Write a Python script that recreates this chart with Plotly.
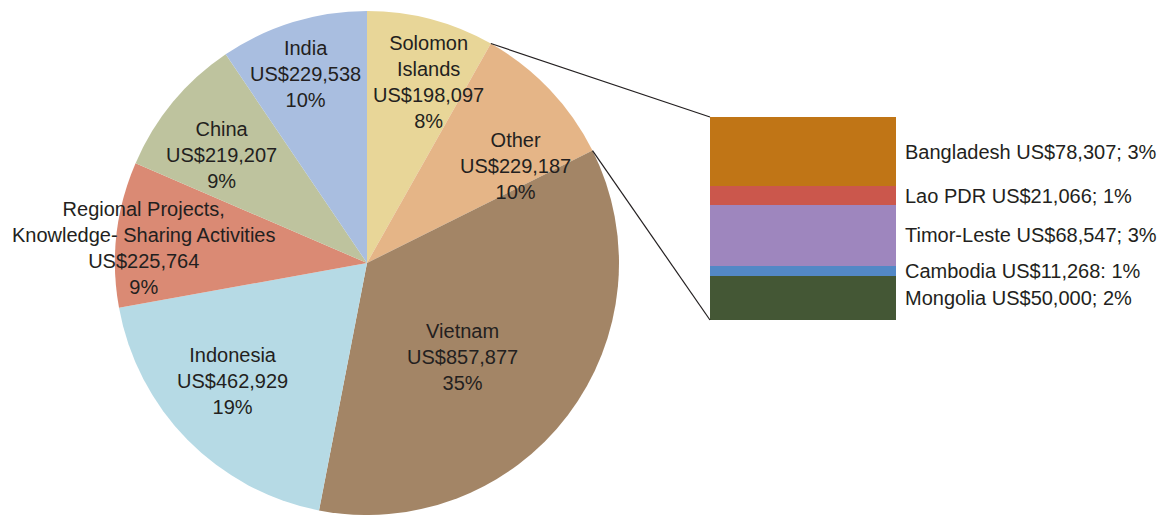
import math
import plotly.graph_objects as go

# ---- data ----
pie_labels = ["Solomon Islands", "Other", "Vietnam", "Indonesia",
              "Regional Projects, Knowledge- Sharing Activities", "China", "India"]
pie_text = ["Solomon<br>Islands<br>US$198,097<br>8%",
            "Other<br>US$229,187<br>10%",
            "Vietnam<br>US$857,877<br>35%",
            "Indonesia<br>US$462,929<br>19%",
            "Regional Projects,<br>Knowledge- Sharing Activities<br>US$225,764<br>9%",
            "China<br>US$219,207<br>9%",
            "India<br>US$229,538<br>10%"]
pie_values = [198097, 229187, 857877, 462929, 225764, 219207, 229538]
pie_colors = ["#E8D698", "#E5B587", "#A38566", "#B6DAE5", "#DA8A74", "#BEC39E", "#A9BEE0"]

bar_labels = ["Mongolia", "Cambodia", "Timor-Leste", "Lao PDR", "Bangladesh"]
bar_values = [50000, 11268, 68547, 21066, 78307]
bar_text = ["Mongolia US$50,000; 2%", "Cambodia US$11,268: 1%",
            "Timor-Leste US$68,547; 3%", "Lao PDR US$21,066; 1%",
            "Bangladesh US$78,307; 3%"]
bar_colors = ["#445735", "#5388C6", "#9E86BE", "#CB574C", "#C07516"]

# ---- layout geometry ----
W, H = 1176, 515
cx, cy, R = 367, 263, 252
pie_dom_x = [(cx - R) / W, (cx + R) / W]
pie_dom_y = [(H - cy - R) / H, (H - cy + R) / H]
bar_dom_x = [710 / W, 896 / W]
bar_dom_y = [(H - 320) / H, (H - 117) / H]

FONT = "Liberation Sans"
TXT = "#231F20"

fig = go.Figure()
fig.add_trace(go.Pie(
    labels=pie_labels, values=pie_values, sort=False, direction="clockwise",
    rotation=0, marker=dict(colors=pie_colors, line=dict(width=0)),
    textinfo="none", hoverinfo="label+value", showlegend=False,
    domain=dict(x=pie_dom_x, y=pie_dom_y)))

for lab, v, c in zip(bar_labels, bar_values, bar_colors):
    fig.add_trace(go.Bar(x=[0], y=[v], name=lab, marker=dict(color=c, line=dict(width=0)),
                         width=1, showlegend=False, xaxis="x", yaxis="y"))

total_other = sum(bar_values)
annotations = []
# pie label positions (pixel centres)
pie_label_pos = [(428, 82), (515, 166), (462, 357), (232, 381), (143, 248), (222, 155), (305, 74)]
for t, (px, py) in zip(pie_text, pie_label_pos):
    annotations.append(dict(text=t, x=px / W, y=(H - py) / H, xref="paper", yref="paper",
                            showarrow=False, xanchor="center", yanchor="middle",
                            font=dict(family=FONT, size=20, color=TXT)))
cum = 0
for t, v in zip(bar_text, bar_values):
    annotations.append(dict(text=t, x=903 / W, y=cum + v / 2, xref="paper", yref="y",
                            showarrow=False, xanchor="left", yanchor="middle",
                            font=dict(family=FONT, size=20, color=TXT)))
    cum += v

# connector lines from the "Other" slice edges to the bar
tot = sum(pie_values)
a1 = 2 * math.pi * pie_values[0] / tot
a2 = 2 * math.pi * (pie_values[0] + pie_values[1]) / tot
p1 = (cx + R * math.sin(a1), cy - R * math.cos(a1))
p2 = (cx + R * math.sin(a2), cy - R * math.cos(a2))
shapes = [
    dict(type="line", xref="paper", yref="paper", x0=p1[0] / W, y0=(H - p1[1]) / H,
         x1=bar_dom_x[0], y1=bar_dom_y[1], line=dict(color="#231F20", width=1.2)),
    dict(type="line", xref="paper", yref="paper", x0=p2[0] / W, y0=(H - p2[1]) / H,
         x1=bar_dom_x[0], y1=bar_dom_y[0], line=dict(color="#231F20", width=1.2)),
]

fig.update_layout(
    width=W, height=H, margin=dict(l=0, r=0, t=0, b=0),
    paper_bgcolor="white", plot_bgcolor="white",
    barmode="stack", bargap=0,
    xaxis=dict(domain=bar_dom_x, range=[-0.5, 0.5], visible=False, fixedrange=True),
    yaxis=dict(domain=bar_dom_y, range=[0, total_other], visible=False, fixedrange=True),
    annotations=annotations, shapes=shapes,
    font=dict(family=FONT, color=TXT),
)

fig.write_html("out.html", config={"displayModeBar": False},
               post_script="document.body.style.margin='0';document.body.style.overflow='hidden';")
